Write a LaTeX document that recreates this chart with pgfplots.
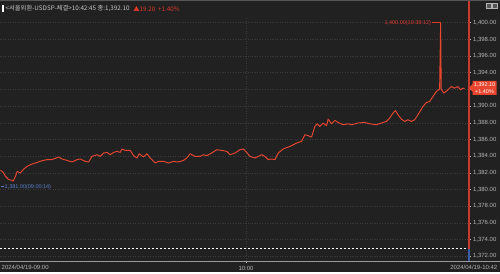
\documentclass[border=0pt]{standalone}
\usepackage{pgfplots}
\pgfplotsset{compat=1.18}
\usepackage{fontspec}
\setmainfont{Liberation Sans}
\newfontfamily\kr{Noto Sans CJK KR}
\definecolor{bg}{HTML}{212121}
\definecolor{topgray}{HTML}{555555}
\definecolor{gridc}{HTML}{3C3C3C}
\definecolor{linec}{HTML}{E8462F}
\definecolor{labc}{HTML}{B4B4B4}
\definecolor{titc}{HTML}{C8C8C8}
\definecolor{redt}{HTML}{E0392B}
\definecolor{axred}{HTML}{C83A2C}
\definecolor{bluet}{HTML}{5B80D0}
\definecolor{axblue}{HTML}{3A5CA8}
\definecolor{boxc}{HTML}{E8452F}
\definecolor{botline}{HTML}{9A9A9A}
\begin{document}
\begin{tikzpicture}
\fill[bg] (0pt,-11pt) rectangle (500pt,262pt);
\fill[topgray] (0pt,260.5pt) rectangle (500pt,262pt);
\begin{axis}[at={(0pt,0pt)}, anchor=south west, scale only axis,
  width=469pt, height=244pt,
  xmin=0, xmax=469, ymin=1371.376, ymax=1400.562,
  axis line style={draw=none},
  ytick={1372,1374,1376,1378,1380,1382,1384,1386,1388,1390,1392,1394,1396,1398,1400},
  yticklabels={{1,372.00},{1,374.00},{1,376.00},{1,378.00},{1,380.00},{1,382.00},{1,384.00},{1,386.00},{1,388.00},{1,390.00},{},{1,394.00},{1,396.00},{1,398.00},{1,400.00}},
  ytick pos=right, yticklabel pos=right,
  xtick={246}, xticklabels={10:00}, xtick pos=bottom,
  tick align=outside, major tick length=2pt,
  tick style={draw=labc, line width=0.5pt},
  grid=major, grid style={gridc, dash pattern=on 1pt off 1.5pt, line width=0.5pt},
  tick label style={font=\fontsize{6}{7}\selectfont, text=labc},
  yticklabel style={xshift=-1pt},
  xticklabel style={yshift=1pt},
  clip=false]
\addplot[white, line width=0.6pt, dash pattern=on 2pt off 2pt] coordinates {(0,1372.9)(469,1372.9)};
\addplot[linec, line width=0.95pt, line join=round] coordinates {
(0,1382.3)(2.7,1382.06)(5,1381.58)(8.3,1381.18)(11.7,1381.10)(12.7,1381.0)(15,1381.58)(16.7,1382.18)(20,1381.99)
(23.3,1382.46)(26.7,1382.78)(31.7,1383.06)(36.7,1383.25)(41.7,1383.46)(46.7,1383.58)(50,1383.58)(53.3,1383.66)
(58.3,1383.90)(61.7,1383.66)(66.7,1383.49)(71.7,1383.30)(76.7,1383.58)(80,1383.66)(85,1383.37)(88.3,1383.30)
(91.7,1383.97)(96.7,1384.17)(100,1383.97)(103.3,1384.38)(106.7,1384.45)(110,1384.17)(113.3,1384.45)(116.7,1384.57)
(120,1384.45)(121.7,1384.86)(125,1384.69)(130,1384.69)(133.3,1384.06)(136.7,1383.78)(139,1384.29)(143.3,1383.90)
(146.7,1384.29)(150,1383.78)(155,1383.18)(158.3,1383.37)(163.3,1383.37)(168.3,1383.18)(173.3,1383.37)(178.3,1383.30)
(183.3,1383.49)(186.7,1383.78)(190,1384.29)(195,1383.97)(200,1383.97)(203.3,1384.17)(206.7,1384.06)(211.7,1384.38)
(216.7,1384.77)(221.7,1384.69)(226.7,1384.57)(230,1384.17)(235,1384.38)(240,1384.77)(243.3,1384.86)(246.7,1384.45)
(250,1383.97)(255,1383.78)(258.3,1383.97)(261.7,1384.17)(265,1383.97)(268.3,1383.58)(271.7,1383.66)(275,1383.58)
(278.3,1384.38)(283.3,1384.86)(290,1385.17)(296.7,1385.57)(301.7,1385.77)(305,1386.57)(308.3,1386.45)(311.7,1386.29)
(315,1387.56)(317.3,1387.88)(320,1387.56)(323.3,1387.97)(326.7,1387.64)(328.3,1388.44)(331.7,1387.88)(335,1388.28)
(338.3,1388.04)(343.3,1387.76)(348.3,1387.88)(351.7,1387.76)(358.3,1387.97)(365,1388.04)(370,1387.88)(376.7,1387.76)
(381.7,1387.97)(386.7,1388.16)(390,1388.56)(393.3,1389.16)(395.7,1389.47)(398.3,1388.96)(401.7,1388.44)(405,1388.16)
(408.3,1388.36)(411.7,1388.16)(415,1388.36)(418.3,1388.96)(423.3,1389.95)(426.7,1390.43)(430,1390.55)(433.3,1391.15)
(436.7,1391.75)(440,1392.03)(441,1400.0)(441.6,1392.0)(444.3,1391.56)(448.3,1391.95)(451.7,1392.34)(455,1392.15)
(458.3,1392.34)(461,1391.95)(463.3,1392.15)(465,1392.10)};
\end{axis}
% right axis line
\draw[axred, line width=1.2pt] (469.5pt,13pt) -- (469.5pt,260.5pt);
\draw[axblue, line width=1.2pt] (469.5pt,0pt) -- (469.5pt,13pt);
% bottom line
\draw[botline, line width=1pt] (0pt,-0.5pt) -- (500pt,-0.5pt);
\node[anchor=west, inner sep=0pt, text=labc, font=\fontsize{6}{7}\selectfont] at (1pt,-5.5pt) {2024/04/19-09:00};
\node[anchor=east, inner sep=0pt, text=labc, font=\fontsize{6}{7}\selectfont] at (498pt,-5.5pt) {2024/04/19-10:42};
% price box
\fill[boxc] (469.5pt,174pt) -- (473pt,178pt) -- (473pt,181pt) -- (497pt,181pt) -- (497pt,167pt) -- (473pt,167pt) -- (473pt,170pt) -- cycle;
\node[inner sep=0pt, text=white, font=\fontsize{5.5}{6}\selectfont] at (485pt,177.3pt) {1,392.10};
\node[inner sep=0pt, text=white, font=\fontsize{5.5}{6}\selectfont] at (485pt,170.6pt) {+1.40\%};
% spike label
\draw[redt, line width=0.5pt] (432pt,239.3pt) -- (441pt,239.3pt);
\node[anchor=east, inner sep=0.5pt, text=redt, font=\fontsize{5.5}{6}\selectfont] at (432pt,239.3pt) {1,400.00(10:38:12)};
% low label
\draw[bluet, line width=0.5pt] (1pt,75pt) -- (3.5pt,75pt);
\node[anchor=west, inner sep=0.5pt, text=bluet, font=\fontsize{5.5}{6}\selectfont] at (3.5pt,75pt) {1,381.00(09:00:14)};
% title
\fill[white] (2pt,250pt) rectangle (3.8pt,256.5pt);
\node[anchor=west, inner sep=0pt, text=titc, font=\kr\fontsize{6.3}{7}\selectfont] at (5pt,253pt) {<서울외환-USDSP-체결>10:42:45 종:1,392.10};
\node[anchor=west, inner sep=0pt, text=redt, font=\kr\fontsize{6.3}{7}\selectfont] at (133pt,253pt) {▲19.20 \ +1.40\%};
% icons
\draw[labc, line width=0.4pt, fill=topgray] (487pt,254pt) rectangle (491.5pt,258.5pt);
\draw[labc, line width=0.4pt, fill=topgray] (493pt,254pt) rectangle (497.5pt,258.5pt);
\end{tikzpicture}
\end{document}
